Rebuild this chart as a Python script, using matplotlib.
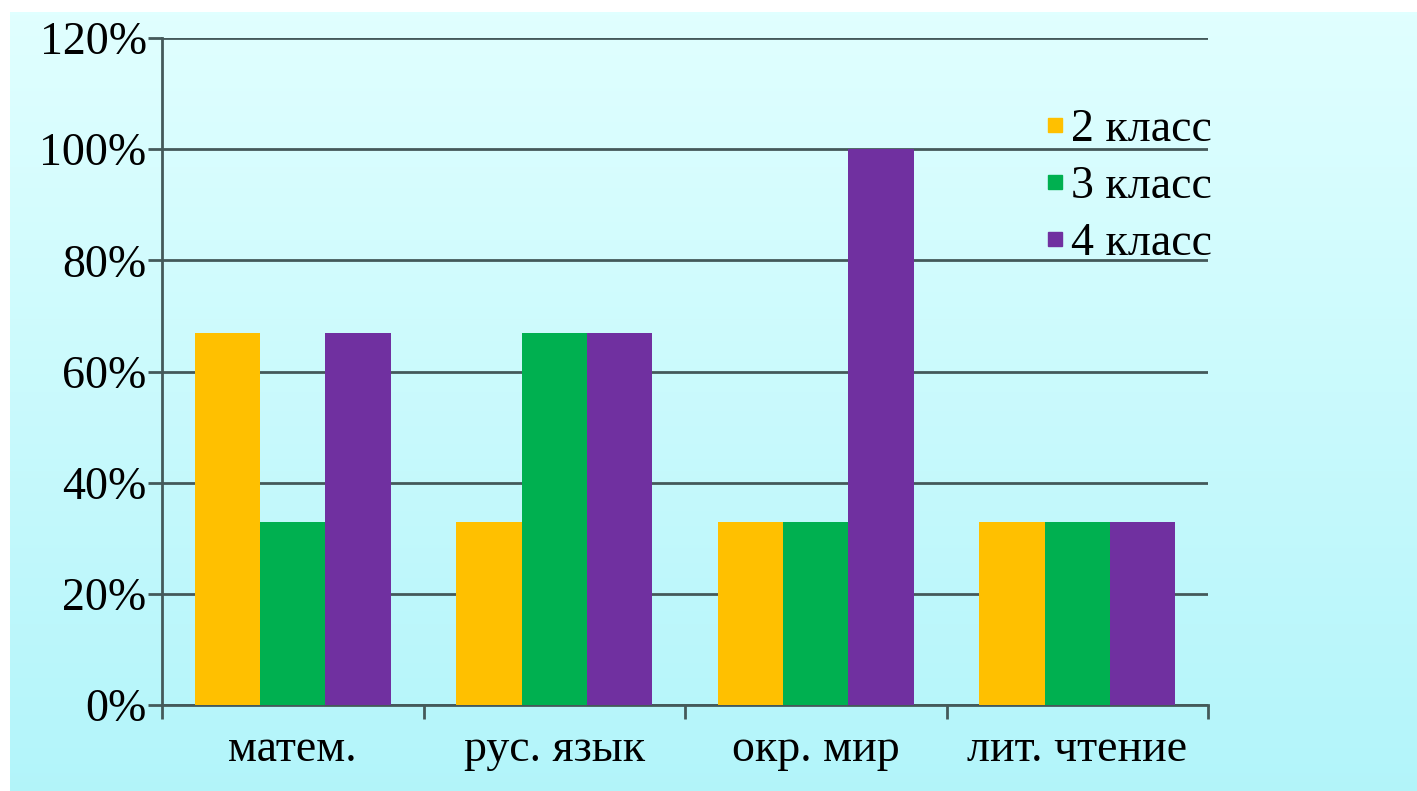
import numpy as np
import matplotlib
matplotlib.use("Agg")
import matplotlib.pyplot as plt
from matplotlib.lines import Line2D
from matplotlib import font_manager as fm

# data
subjects = ["матем.", "рус. язык", "окр. мир", "лит. чтение"]
series_names = ["2 класс", "3 класс", "4 класс"]
grade2 = [67, 33, 33, 33]
grade3 = [33, 67, 33, 33]
grade4 = [67, 67, 100, 33]
colors = ["#FFC000", "#00B050", "#7030A0"]
yticks = [0, 20, 40, 60, 80, 100, 120]

plt.rcParams['font.family'] = ['Liberation Serif', 'DejaVu Serif']
serif_file = fm.findfont("Liberation Serif")


def fp(size):
    return fm.FontProperties(fname=serif_file, size=size)


fig = plt.figure(figsize=(14.17, 7.91), dpi=100)
fig.patch.set_facecolor("white")

# gradient panel behind the chart
bg = fig.add_axes([10 / 1417, 0, 1 - 10 / 1417, 1 - 12 / 791], zorder=-10)
grad = np.linspace(0, 1, 256).reshape(-1, 1)
top = np.array([0.88, 1.0, 1.0])
bot = np.array([0.70, 0.96, 0.98])
img = top[None, None, :] * (1 - grad[:, :, None]) + bot[None, None, :] * grad[:, :, None]
bg.imshow(img, aspect="auto", extent=[0, 1, 0, 1])
bg.axis("off")

ax = fig.add_axes([162 / 1417, 1 - 705 / 791, (1208 - 162) / 1417, (705 - 38) / 791])
ax.patch.set_alpha(0)

x = np.arange(len(subjects))
w = 0.25
all_vals = [grade2, grade3, grade4]
for i, vals in enumerate(all_vals):
    ax.bar(x + (i - 1) * w, vals, width=w, color=colors[i], zorder=3)

gridc = "#44595a"
ax.set_xlim(-0.5, len(subjects) - 0.5)
ax.set_ylim(0, 120)
ax.set_yticks(yticks)
ax.set_yticklabels([f"{v}%" for v in yticks], fontproperties=fp(33))
ax.yaxis.grid(True, color=gridc, linewidth=2, zorder=1)

ax.set_xticks(np.arange(len(subjects) + 1) - 0.5)
ax.set_xticklabels([])
ax.set_xticks(x, minor=True)
ax.set_xticklabels(subjects, minor=True, fontproperties=fp(33))
ax.tick_params(axis="x", which="minor", length=0, pad=17)
ax.tick_params(axis="x", which="major", length=10, width=2, color=gridc)
ax.tick_params(axis="y", length=10, width=2, color=gridc, pad=1)

for s in ["top", "right"]:
    ax.spines[s].set_visible(False)
for s in ["left", "bottom"]:
    ax.spines[s].set_color(gridc)
    ax.spines[s].set_linewidth(2)

handles = [Line2D([], [], marker="s", linestyle="none", markersize=10,
                  markerfacecolor=c, markeredgecolor=c) for c in colors]
leg = ax.legend(handles, series_names, loc="upper right", bbox_to_anchor=(1.004, 0.894),
                frameon=False, prop=fp(33), handlelength=0.45, borderpad=0,
                handletextpad=0.12, labelspacing=0.31, borderaxespad=0)

fig.savefig("out.png", dpi=100)
